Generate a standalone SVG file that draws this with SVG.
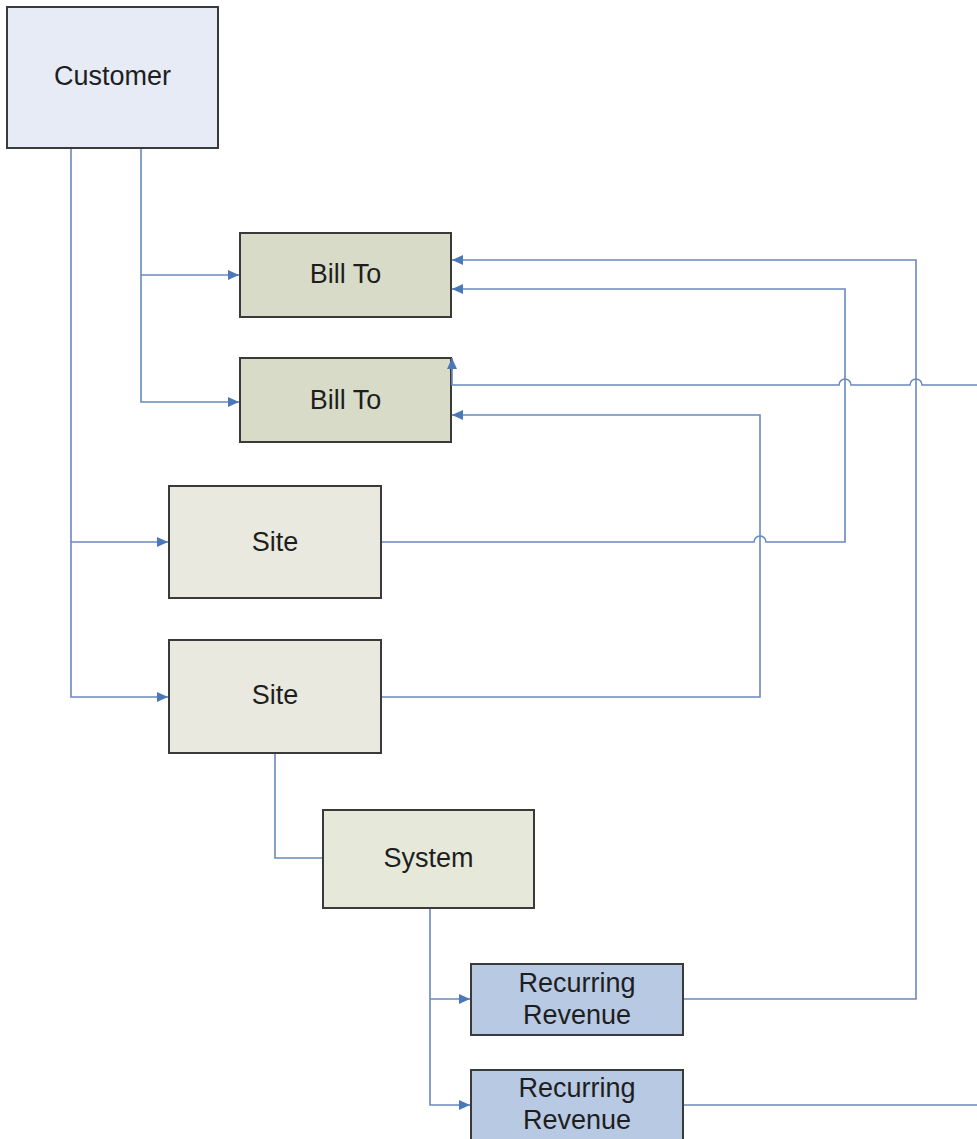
<svg xmlns="http://www.w3.org/2000/svg" width="977" height="1139" viewBox="0 0 977 1139">
<style>
.box{stroke:#3a3a3a;stroke-width:2}
.lbl{font-family:"Liberation Sans",Arial,sans-serif;font-size:27px;fill:#1e1e1e;text-anchor:middle;dominant-baseline:central}
.c{fill:none;stroke:#6a89bd;stroke-width:1.6}
</style>
<defs>
<marker id="arr" markerUnits="userSpaceOnUse" markerWidth="12" markerHeight="10" refX="11" refY="5" orient="auto">
<path d="M0,0 L11,5 L0,10 Z" fill="#4a78b8"/>
</marker>
</defs>
<rect width="977" height="1139" fill="#ffffff"/>
<g id="customer">
<rect class="box" x="7" y="7" width="211" height="141" fill="#e6ebf6"/>
<text class="lbl" x="112.5" y="76">Customer</text>
</g>
<g id="billto1">
<rect class="box" x="240" y="233" width="211" height="84" fill="#d8dbc8"/>
<text class="lbl" x="345.5" y="274">Bill To</text>
</g>
<g id="billto2">
<rect class="box" x="240" y="358" width="211" height="84" fill="#d8dbc8"/>
<text class="lbl" x="345.5" y="400">Bill To</text>
</g>
<g id="site1">
<rect class="box" x="169" y="486" width="212" height="112" fill="#e9e9df"/>
<text class="lbl" x="275" y="542">Site</text>
</g>
<g id="site2">
<rect class="box" x="169" y="640" width="212" height="113" fill="#e9e9df"/>
<text class="lbl" x="275" y="695">Site</text>
</g>
<g id="system">
<rect class="box" x="323" y="810" width="211" height="98" fill="#e6e8d9"/>
<text class="lbl" x="428.5" y="858">System</text>
</g>
<g id="rr1">
<rect class="box" x="471" y="964" width="212" height="71" fill="#b8c9e3"/>
<text class="lbl" x="577" y="983">Recurring</text>
<text class="lbl" x="577" y="1015">Revenue</text>
</g>
<g id="rr2">
<rect class="box" x="471" y="1070" width="212" height="80" fill="#b8c9e3"/>
<text class="lbl" x="577" y="1088">Recurring</text>
<text class="lbl" x="577" y="1120">Revenue</text>
</g>
<g id="connectors">
<path class="c" d="M71 149 V697 H168" marker-end="url(#arr)"/>
<path class="c" d="M71 542 H168" marker-end="url(#arr)"/>
<path class="c" d="M141 149 V402 H239" marker-end="url(#arr)"/>
<path class="c" d="M141 275 H239" marker-end="url(#arr)"/>
<path class="c" d="M684 999 H916 V260 H452" marker-end="url(#arr)"/>
<path class="c" d="M382 542 H754 A6 6 0 0 1 766 542 H845 V289 H452" marker-end="url(#arr)"/>
<path class="c" d="M382 697 H760 V415 H452" marker-end="url(#arr)"/>
<path class="c" d="M977 385 H922 A6 6 0 0 0 910 385 H851 A6 6 0 0 0 839 385 H452 V358" marker-end="url(#arr)"/>
<path class="c" d="M684 1105 H977"/>
<path class="c" d="M275 754 V858 H322"/>
<path class="c" d="M430 909 V1105 H470" marker-end="url(#arr)"/>
<path class="c" d="M430 999 H470" marker-end="url(#arr)"/>
</g>
</svg>
